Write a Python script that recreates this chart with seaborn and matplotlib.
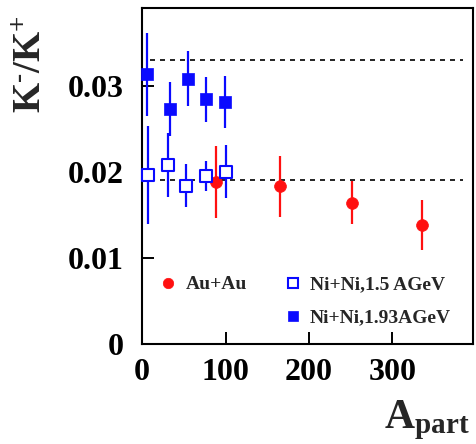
import numpy as np
import pandas as pd
import seaborn as sns
import matplotlib.pyplot as plt
from matplotlib.lines import Line2D

# —— DATA —— #
au_npart = [88, 165, 252, 336]
au_ratio = [0.0188, 0.0183, 0.0164, 0.0138]
au_err = [0.0042, 0.0035, 0.0025, 0.0029]

ni15_npart = [7, 31, 53, 77, 101]
ni15_ratio = [0.0196, 0.0208, 0.0184, 0.0195, 0.0200]
ni15_err = [0.0057, 0.0037, 0.0025, 0.0017, 0.0031]

ni193_npart = [6, 34, 55, 76, 99]
ni193_ratio = [0.0313, 0.0273, 0.0308, 0.0284, 0.0281]
ni193_err = [0.0048, 0.0031, 0.0032, 0.0026, 0.0030]

ref_levels = [0.033, 0.019]
ref_span = [10, 385]

x_ticks = [0, 100, 200, 300]
y_ticks = [0, 0.01, 0.02, 0.03]
y_ticklabels = ['0', '0.01', '0.02', '0.03']

RED = '#ff1010'
BLUE = '#0a0aff'

# —— STYLE —— #
sns.set_theme(style='ticks')
plt.rcParams['font.family'] = ['Liberation Serif', 'DejaVu Serif']
plt.rcParams['font.weight'] = 'bold'
plt.rcParams['mathtext.fontset'] = 'custom'
plt.rcParams['mathtext.rm'] = 'Liberation Serif:bold'
plt.rcParams['mathtext.bf'] = 'Liberation Serif:bold'
plt.rcParams['mathtext.it'] = 'Liberation Serif:bold'

fig = plt.figure(figsize=(4.77, 4.44), dpi=100)
ax = fig.add_axes([0.298, 0.225, 0.694, 0.757])

series = [
    (au_npart, au_ratio, au_err, 'o', RED, RED, 'Au+Au'),
    (ni15_npart, ni15_ratio, ni15_err, 's', 'white', BLUE, 'Ni+Ni,1.5 AGeV'),
    (ni193_npart, ni193_ratio, ni193_err, 's', BLUE, BLUE, 'Ni+Ni,1.93AGeV'),
]

for y in ref_levels:
    ax.plot(ref_span, [y, y], color='black', lw=1.2, ls=(0, (3, 3)), zorder=1)

handles = {}
for xs, ys, es, mk, fc, ec, lbl in series:
    df = pd.DataFrame({'npart': xs, 'ratio': ys})
    ax.errorbar(xs, ys, yerr=es, fmt='none', ecolor=ec, elinewidth=1.6,
                capsize=0, zorder=2)
    size = 8.5
    sns.scatterplot(data=df, x='npart', y='ratio', marker=mk, s=size ** 2,
                    color=fc, edgecolor=ec, linewidth=1.5 if fc == 'white' else 0.5,
                    ax=ax, zorder=3, legend=False, clip_on=False)
    handles[lbl] = Line2D([], [], ls='none', marker=mk, markersize=size - 1,
                          markerfacecolor=fc, markeredgecolor=ec,
                          markeredgewidth=1.5 if fc == 'white' else 0.5)

blank = Line2D([], [], ls='none')
ax.legend([handles['Au+Au'], blank, handles['Ni+Ni,1.5 AGeV'], handles['Ni+Ni,1.93AGeV']],
          ['Au+Au', '', 'Ni+Ni,1.5 AGeV', 'Ni+Ni,1.93AGeV'],
          ncol=2, frameon=False, prop={'weight': 'bold', 'size': 14},
          loc='lower left', bbox_to_anchor=(-0.01, 0.0),
          handletextpad=0.3, columnspacing=1.75, labelspacing=0.8, handlelength=1.2)

ax.set_xlim(0, 397)
ax.set_ylim(0, 0.039)
ax.set_xticks(x_ticks)
ax.set_yticks(y_ticks)
ax.set_yticklabels(y_ticklabels)
ax.set_xlabel('')
ax.set_ylabel('')
ax.tick_params(direction='in', length=8.5, width=1.4, labelsize=23, colors='black')
ax.tick_params(axis='y', pad=13)
ax.tick_params(axis='x', pad=10)
for lab in ax.get_xticklabels() + ax.get_yticklabels():
    lab.set_fontweight('bold')
for sp in ax.spines.values():
    sp.set_visible(True)
    sp.set_linewidth(1.5)
    sp.set_color('black')

fig.text(0.065, 0.855, r'$\mathbf{K^{\text{-}}/K^{+}}$', rotation=90, fontsize=28,
         ha='center', va='center')
fig.text(0.985, 0.005, r'$\mathbf{A_{part}}$', fontsize=30, ha='right', va='bottom')

fig.savefig('out.png', dpi=100)
